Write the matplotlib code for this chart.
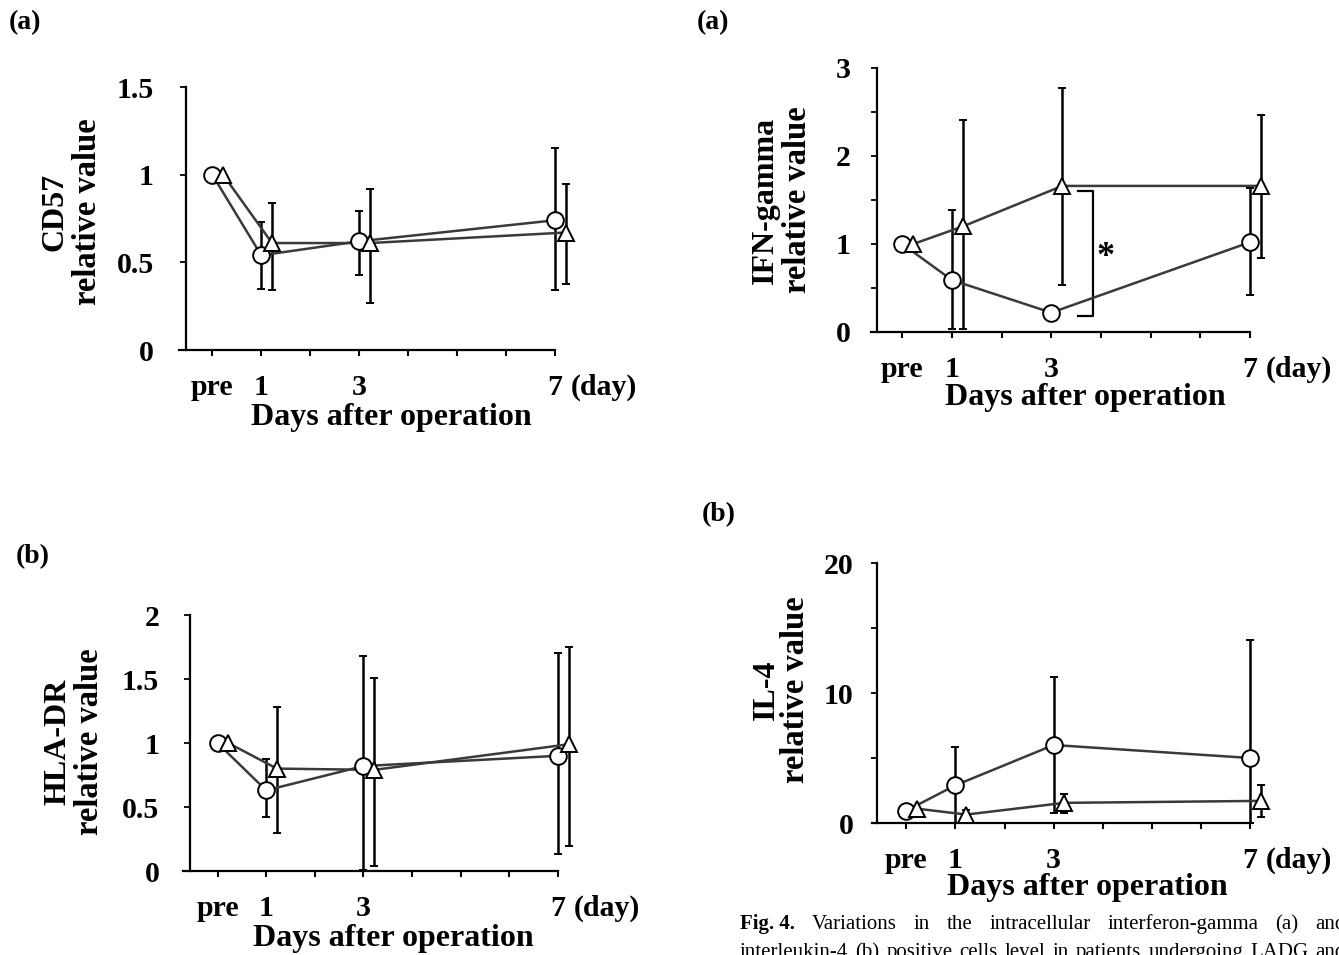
import matplotlib
matplotlib.use("Agg")
import matplotlib.pyplot as plt

plt.rcParams['font.family'] = ['Liberation Serif', 'DejaVu Serif']
plt.rcParams['font.weight'] = 'bold'

W, H = 1339, 955

days = [0, 1, 3, 7]
shift = 0.22
xtick_labels = ['pre', '1', '', '3', '', '', '', '7']

# CD57 (top left)
cd57_circ = [1.0, 0.54, 0.62, 0.74]
cd57_circ_lo = [1.0, 0.35, 0.43, 0.34]
cd57_circ_hi = [1.0, 0.73, 0.79, 1.15]
cd57_tri = [1.0, 0.61, 0.61, 0.67]
cd57_tri_lo = [1.0, 0.34, 0.27, 0.375]
cd57_tri_hi = [1.0, 0.84, 0.92, 0.945]

# IFN-gamma (top right)
ifn_circ = [1.0, 0.59, 0.22, 1.02]
ifn_circ_lo = [1.0, 0.03, 0.22, 0.42]
ifn_circ_hi = [1.0, 1.39, 0.22, 1.64]
ifn_tri = [1.0, 1.2, 1.66, 1.66]
ifn_tri_lo = [1.0, 0.03, 0.53, 0.84]
ifn_tri_hi = [1.0, 2.41, 2.77, 2.47]

# HLA-DR (bottom left)
hla_circ = [1.0, 0.63, 0.82, 0.90]
hla_circ_lo = [1.0, 0.42, 0.01, 0.13]
hla_circ_hi = [1.0, 0.875, 1.68, 1.70]
hla_tri = [1.0, 0.80, 0.79, 0.99]
hla_tri_lo = [1.0, 0.30, 0.04, 0.195]
hla_tri_hi = [1.0, 1.28, 1.51, 1.75]

# IL-4 (bottom right)
il4_circ = [0.95, 2.9, 6.0, 5.0]
il4_circ_lo = [0.95, 0.0, 0.8, 0.0]
il4_circ_hi = [0.95, 5.85, 11.2, 14.1]
il4_tri = [1.1, 0.65, 1.55, 1.7]
il4_tri_lo = [1.1, 0.3, 0.75, 0.45]
il4_tri_hi = [1.1, 1.0, 2.25, 2.95]

caption1 = [("Fig. 4.", "bold"), ("Variations", "normal"), ("in", "normal"), ("the", "normal"),
            ("intracellular", "normal"), ("interferon-gamma", "normal"), ("(a)", "normal"),
            ("and", "normal")]
caption2 = [("interleukin-4", "normal"), ("(b)", "normal"), ("positive", "normal"),
            ("cells", "normal"), ("level", "normal"), ("in", "normal"), ("patients", "normal"),
            ("undergoing", "normal"), ("LADG", "normal"), ("and", "normal")]

fig = plt.figure(figsize=(W / 100, H / 100), dpi=100)


def fx(x):
    return x / W


def fy(y):
    return 1 - y / H


def panel(x_start, x_end, y_bot, y_top, xmin, yaxis_at, ymax, yticks, ylabels, minor,
          circ, circ_lo, circ_hi, tri, tri_lo, tri_hi, ypad):
    ax = fig.add_axes([fx(x_start), fy(y_bot), fx(x_end - x_start), (y_bot - y_top) / H])
    ax.set_xlim(xmin, 7)
    ax.set_ylim(0, ymax)
    for s in ['top', 'right']:
        ax.spines[s].set_visible(False)
    ax.spines['left'].set_position(('data', yaxis_at))
    for s in ['left', 'bottom']:
        ax.spines[s].set_linewidth(1.6)
    ax.set_xticks(range(8))
    ax.set_xticklabels(xtick_labels)
    ax.set_yticks(yticks)
    ax.set_yticklabels(ylabels)
    ax.set_yticks(minor, minor=True)
    ax.tick_params(axis='x', length=4, width=1.5, pad=13, labelsize=21.5)
    ax.tick_params(axis='y', which='both', length=4, width=1.3, pad=ypad, labelsize=21.5)
    ax.annotate('(day)', xy=(7, 0), xycoords=('data', 'axes fraction'),
                xytext=(11, -17), textcoords='offset points', ha='left', va='top',
                fontsize=21.5, annotation_clip=False)

    xt = [d + shift for d in days]
    for xs, ys, lo, hi in [(days, circ, circ_lo, circ_hi), (xt, tri, tri_lo, tri_hi)]:
        err = [[y - l for y, l in zip(ys, lo)], [h - y for y, h in zip(ys, hi)]]
        eb = ax.errorbar(xs[1:], ys[1:], yerr=[err[0][1:], err[1][1:]], fmt='none',
                         ecolor='black', elinewidth=1.8, capsize=3, capthick=1.4, zorder=2)
        for art in list(eb.lines[1]) + list(eb.lines[2]):
            art.set_clip_on(False)
    ax.plot(days, circ, color='#3a3a3a', lw=1.8, zorder=3, clip_on=False)
    ax.plot(xt, tri, color='#3a3a3a', lw=1.8, zorder=3, clip_on=False)
    ax.plot(days, circ, 'o', ms=12, mfc='white', mec='black', mew=1.4, zorder=4, clip_on=False)
    ax.plot(xt, tri, '^', ms=12, mfc='white', mec='black', mew=1.4, zorder=4, clip_on=False)
    return ax


# top left: CD57
panel(179, 555, 350, 87, -0.68, -0.54, 1.5, [0, 0.5, 1, 1.5], ['0', '0.5', '1', '1.5'], [],
      cd57_circ, cd57_circ_lo, cd57_circ_hi, cd57_tri, cd57_tri_lo, cd57_tri_hi, 19)

# top right: IFN-gamma
ax2 = panel(871, 1250, 332, 68, -0.63, -0.51, 3, [0, 1, 2, 3], ['0', '1', '2', '3'],
            [0.5, 1.5, 2.5],
            ifn_circ, ifn_circ_lo, ifn_circ_hi, ifn_tri, ifn_tri_lo, ifn_tri_hi, 15)
ax2.plot([3.54, 3.83, 3.83, 3.54], [1.6, 1.6, 0.18, 0.18], color='black', lw=1.6, zorder=2)
ax2.text(4.1, 0.85, '*', fontsize=26, ha='center', va='center')

# bottom left: HLA-DR
panel(183, 558, 871, 615, -0.71, -0.57, 2, [0, 0.5, 1, 1.5, 2], ['0', '0.5', '1', '1.5', '2'],
      [], hla_circ, hla_circ_lo, hla_circ_hi, hla_tri, hla_tri_lo, hla_tri_hi, 18)

# bottom right: IL-4
panel(872, 1250, 823, 563, -0.70, -0.59, 20, [0, 10, 20], ['0', '10', '20'], [5, 15],
      il4_circ, il4_circ_lo, il4_circ_hi, il4_tri, il4_tri_lo, il4_tri_hi, 13)

# axis titles
for x, y, t in [(391, 418, 'Days after operation'), (1085, 397, 'Days after operation'),
                (393, 938, 'Days after operation'), (1087, 887, 'Days after operation')]:
    fig.text(fx(x), fy(y), t, ha='center', va='center', fontsize=23)

for x, y, t, s in [(55, 212, 'CD57', 23), (87, 212, 'relative value', 23.5),
                   (765, 200, 'IFN-gamma', 23), (797, 200, 'relative value', 23.5),
                   (58, 742, 'HLA-DR', 23), (89, 742, 'relative value', 23.5),
                   (766, 690, 'IL-4', 23), (795, 690, 'relative value', 23.5)]:
    fig.text(fx(x), fy(y), t, ha='center', va='center', rotation=90, fontsize=s)

for x, y, t in [(25, 23, '(a)'), (713, 23, '(a)'), (719, 515, '(b)'), (33, 557, '(b)')]:
    fig.text(fx(x), fy(y), t, ha='center', va='center', fontsize=20)

# caption, justified like the journal page (cut at the right and bottom edges)
renderer = fig.canvas.get_renderer()


def justify(words, y, x0, x1):
    objs = [fig.text(0, fy(y), w, fontsize=15, fontweight=wt, va='baseline') for w, wt in words]
    widths = [o.get_window_extent(renderer).width for o in objs]
    gap = (x1 - x0 - sum(widths)) / (len(objs) - 1)
    x = x0
    for o, w in zip(objs, widths):
        o.set_x(fx(x))
        x += w + gap


justify(caption1, 929, 740, 1346)
justify(caption2, 957, 740, 1346)

fig.savefig('out.png', dpi=100)
